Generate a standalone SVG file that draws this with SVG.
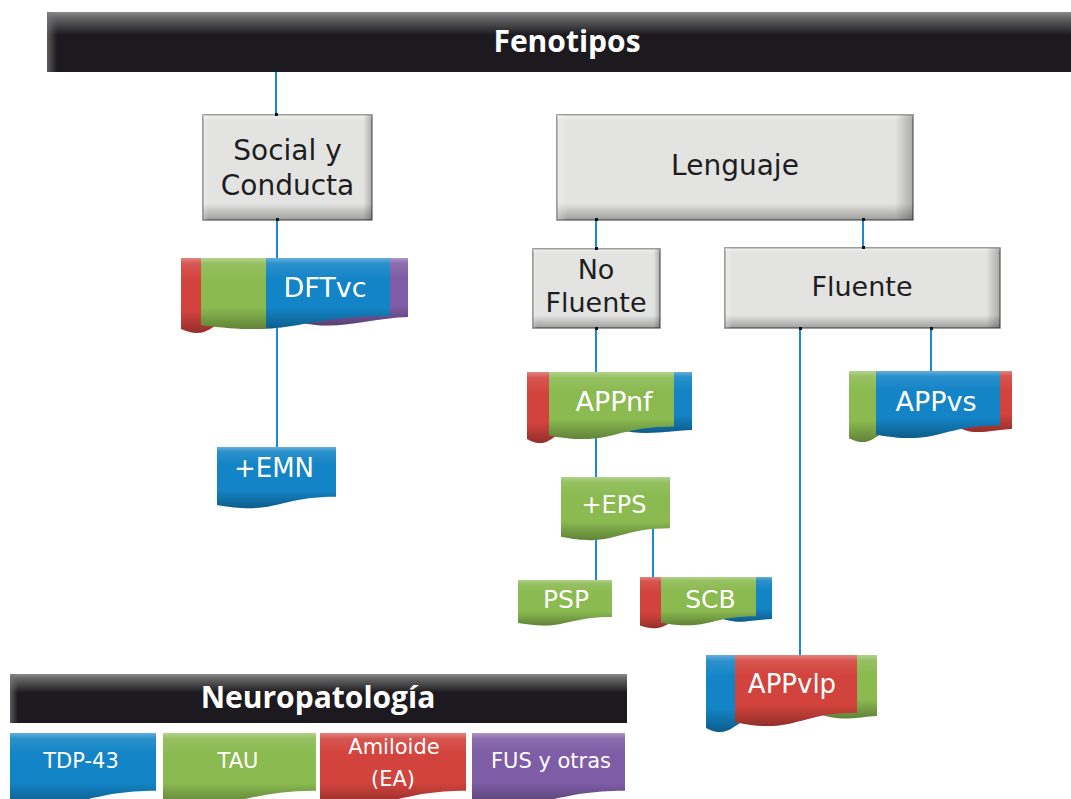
<svg xmlns="http://www.w3.org/2000/svg" width="1071" height="799" viewBox="0 0 1071 799">
<style>
.bar{fill:url(#barg)}
.barl{fill:url(#barl)}
.bt{font-family:"Open Sans","DejaVu Sans",sans-serif;font-weight:bold;font-size:30px;fill:#fff;text-anchor:middle}
.box{fill:#e3e3e1;stroke:#7d7d7d;stroke-width:1.5}
.boxv{fill:url(#boxv)}
.boxh{fill:url(#boxh)}
.gt{font-family:"DejaVu Sans",sans-serif;font-size:28px;fill:#1e1e1e;text-anchor:middle}
.wt{font-family:"DejaVu Sans",sans-serif;font-size:26px;fill:#fff;text-anchor:middle}
.lt{font-family:"DejaVu Sans",sans-serif;font-size:21px;fill:#fff;text-anchor:middle}
.blue{fill:#1384c6}
.green{fill:#8aba50}
.red{fill:#d3433d}
.purple{fill:#7e5da6}
.shine{fill:url(#shine)}
.conn{stroke:#1a8bd0;stroke-width:2;fill:none}
.dot{fill:#111}
</style>
<defs>
<linearGradient id="barg" x1="0" y1="0" x2="0" y2="1">
<stop offset="0" stop-color="#8c8c8c"/>
<stop offset="0.08" stop-color="#6a6a6a"/>
<stop offset="0.38" stop-color="#1c1a1e"/>
<stop offset="1" stop-color="#1c1a1e"/>
</linearGradient>
<linearGradient id="barl" x1="0" y1="0" x2="1" y2="0">
<stop offset="0" stop-color="#777" stop-opacity="0.7"/>
<stop offset="1" stop-color="#777" stop-opacity="0"/>
</linearGradient>
<linearGradient id="boxv" x1="0" y1="0" x2="0" y2="1">
<stop offset="0" stop-color="#fff" stop-opacity="0.5"/>
<stop offset="0.05" stop-color="#fff" stop-opacity="0"/>
<stop offset="0.84" stop-color="#000" stop-opacity="0"/>
<stop offset="1" stop-color="#000" stop-opacity="0.3"/>
</linearGradient>
<linearGradient id="boxh" x1="0" y1="0" x2="1" y2="0">
<stop offset="0" stop-color="#fff" stop-opacity="0.3"/>
<stop offset="0.03" stop-color="#fff" stop-opacity="0"/>
<stop offset="0.95" stop-color="#000" stop-opacity="0"/>
<stop offset="1" stop-color="#000" stop-opacity="0.25"/>
</linearGradient>
<linearGradient id="shine" x1="0" y1="0" x2="0" y2="1">
<stop offset="0" stop-color="#fff" stop-opacity="0.35"/>
<stop offset="0.08" stop-color="#fff" stop-opacity="0.1"/>
<stop offset="0.3" stop-color="#fff" stop-opacity="0"/>
<stop offset="0.7" stop-color="#000" stop-opacity="0"/>
<stop offset="1" stop-color="#000" stop-opacity="0.3"/>
</linearGradient>
<clipPath id="c-dft"><path d="M201 258 H390 V316 C295.5 316 295.5 338 201 325 Z"/></clipPath>
</defs>

<rect width="1071" height="799" fill="#fff"/>

<g id="connectors">
<line class="conn" x1="276" y1="71" x2="276" y2="115"/>
<line class="conn" x1="277" y1="220" x2="277" y2="448"/>
<line class="conn" x1="596" y1="220" x2="596" y2="249"/>
<line class="conn" x1="863" y1="220" x2="863" y2="248"/>
<line class="conn" x1="596" y1="328" x2="596" y2="581"/>
<line class="conn" x1="653" y1="510" x2="653" y2="578"/>
<line class="conn" x1="800" y1="328" x2="800" y2="656"/>
<line class="conn" x1="931" y1="328" x2="931" y2="372"/>
</g>

<g id="fenotipos">
<rect class="bar" x="47" y="12" width="1024" height="60"/>
<rect class="barl" x="47" y="12" width="10" height="60"/>
<text class="bt" x="567" y="52">Fenotipos</text>
</g>

<g id="social">
<rect class="box" x="203" y="115" width="169" height="105"/>
<rect class="boxv" x="203" y="115" width="169" height="105"/>
<rect class="boxh" x="203" y="115" width="169" height="105"/>
<text class="gt" x="287.5" y="160">Social y</text>
<text class="gt" x="287.5" y="195">Conducta</text>
</g>

<g id="lenguaje">
<rect class="box" x="557" y="115" width="356" height="105"/>
<rect class="boxv" x="557" y="115" width="356" height="105"/>
<rect class="boxh" x="557" y="115" width="356" height="105"/>
<text class="gt" x="735" y="175">Lenguaje</text>
</g>

<g id="nofluente">
<rect class="box" x="533" y="249" width="127" height="79"/>
<rect class="boxv" x="533" y="249" width="127" height="79"/>
<rect class="boxh" x="533" y="249" width="127" height="79"/>
<text class="gt" x="596" y="279" style="font-size:27px">No</text>
<text class="gt" x="596" y="312" style="font-size:27px">Fluente</text>
</g>

<g id="fluente">
<rect class="box" x="725" y="248" width="275" height="80"/>
<rect class="boxv" x="725" y="248" width="275" height="80"/>
<rect class="boxh" x="725" y="248" width="275" height="80"/>
<text class="gt" x="862" y="296" style="font-size:27px">Fluente</text>
</g>

<g id="dots">
<rect class="dot" x="275" y="113" width="3" height="3"/>
<rect class="dot" x="276" y="218" width="3" height="3"/>
<rect class="dot" x="595" y="218" width="3" height="3"/>
<rect class="dot" x="862" y="218" width="3" height="3"/>
<rect class="dot" x="595" y="247" width="3" height="3"/>
<rect class="dot" x="862" y="246" width="3" height="3"/>
<rect class="dot" x="595" y="327" width="3" height="3"/>
<rect class="dot" x="799" y="327" width="3" height="3"/>
<rect class="dot" x="930" y="327" width="3" height="3"/>
</g>

<g id="dftvc">
<path class="red" d="M181 258 H240 V319 C210.5 319 210.5 342 181 329 Z"/>
<path class="shine" d="M181 258 H240 V319 C210.5 319 210.5 342 181 329 Z"/>
<path class="purple" d="M300 258 H408 V317 C370 318 335 332 300 322 Z"/>
<path class="shine" d="M300 258 H408 V317 C370 318 335 332 300 322 Z"/>
<g clip-path="url(#c-dft)">
<rect class="green" x="201" y="258" width="65" height="85"/>
<rect class="blue" x="266" y="258" width="124" height="85"/>
</g>
<path class="shine" d="M201 258 H390 V316 C295.5 316 295.5 338 201 325 Z"/>
<text class="wt" x="325" y="297" style="font-size:27px">DFTvc</text>
</g>

<g id="emn">
<path class="blue" d="M217 447 H336 V496.7 C276.5 496.7 276.5 515.6 217 504.9 Z"/>
<path class="shine" d="M217 447 H336 V496.7 C276.5 496.7 276.5 515.6 217 504.9 Z"/>
<text class="wt" x="274" y="477">+EMN</text>
</g>

<g id="appnf">
<path class="red" d="M527 372 H575 V430 C551 430 551 452 527 439 Z"/>
<path class="shine" d="M527 372 H575 V430 C551 430 551 452 527 439 Z"/>
<path class="blue" d="M620 372 H692 V430 C665 431 645 436 620 430 Z"/>
<path class="shine" d="M620 372 H692 V430 C665 431 645 436 620 430 Z"/>
<path class="green" d="M549 372 H674 V426.5 C611.5 426.5 611.5 447.3 549 435.5 Z"/>
<path class="shine" d="M549 372 H674 V426.5 C611.5 426.5 611.5 447.3 549 435.5 Z"/>
<text class="wt" x="614" y="411" style="font-size:27px">APPnf</text>
</g>

<g id="appvs">
<path class="green" d="M849 371 H900 V428.7 C874.5 428.7 874.5 450.7 849 438.2 Z"/>
<path class="shine" d="M849 371 H900 V428.7 C874.5 428.7 874.5 450.7 849 438.2 Z"/>
<path class="red" d="M960 371 H1012 V429 C990 430 975 436 960 428 Z"/>
<path class="shine" d="M960 371 H1012 V429 C990 430 975 436 960 428 Z"/>
<path class="blue" d="M876 371 H1000 V425.5 C938 425.5 938 446.3 876 434.5 Z"/>
<path class="shine" d="M876 371 H1000 V425.5 C938 425.5 938 446.3 876 434.5 Z"/>
<text class="wt" x="936" y="411" style="font-size:27px">APPvs</text>
</g>

<g id="eps">
<path class="green" d="M561 477 H670 V528.3 C615.5 528.3 615.5 547.8 561 536.8 Z"/>
<path class="shine" d="M561 477 H670 V528.3 C615.5 528.3 615.5 547.8 561 536.8 Z"/>
<text class="wt" x="614" y="513" style="font-size:24px">+EPS</text>
</g>

<g id="psp">
<path class="green" d="M518 580 H612 V616.9 C565 616.9 565 630.9 518 623 Z"/>
<path class="shine" d="M518 580 H612 V616.9 C565 616.9 565 630.9 518 623 Z"/>
<text class="wt" x="566" y="608" style="font-size:25px">PSP</text>
</g>

<g id="scb">
<path class="red" d="M640 577 H690 V618.7 C665 618.7 665 634.6 640 625.6 Z"/>
<path class="shine" d="M640 577 H690 V618.7 C665 618.7 665 634.6 640 625.6 Z"/>
<path class="blue" d="M720 577 H772 V619 C750 620 738 625 720 618 Z"/>
<path class="shine" d="M720 577 H772 V619 C750 620 738 625 720 618 Z"/>
<path class="green" d="M661 577 H756 V616.3 C708.5 616.3 708.5 631.2 661 622.8 Z"/>
<path class="shine" d="M661 577 H756 V616.3 C708.5 616.3 708.5 631.2 661 622.8 Z"/>
<text class="wt" x="710.5" y="608" style="font-size:25px">SCB</text>
</g>

<g id="appvlp">
<path class="blue" d="M706 655 H760 V717.6 C733 717.6 733 741.3 706 727.9 Z"/>
<path class="shine" d="M706 655 H760 V717.6 C733 717.6 733 741.3 706 727.9 Z"/>
<path class="green" d="M820 655 H877 V716 C858 717 840 722 820 714 Z"/>
<path class="shine" d="M820 655 H877 V716 C858 717 840 722 820 714 Z"/>
<path class="red" d="M735 655 H857 V712.7 C796 712.7 796 734.7 735 722.2 Z"/>
<path class="shine" d="M735 655 H857 V712.7 C796 712.7 796 734.7 735 722.2 Z"/>
<text class="wt" x="792" y="693">APPvlp</text>
</g>

<g id="neuropatologia">
<rect class="bar" x="10" y="674" width="617" height="49"/>
<rect class="barl" x="10" y="674" width="8" height="49"/>
<text class="bt" x="318" y="708">Neuropatología</text>
</g>

<g id="legend-tdp">
<path class="blue" d="M10 733 H156 V790.7 C83 790.7 83 812.7 10 800.2 Z"/>
<path class="shine" d="M10 733 H156 V790.7 C83 790.7 83 812.7 10 800.2 Z"/>
<text class="lt" x="81" y="768">TDP-43</text>
</g>
<g id="legend-tau">
<path class="green" d="M163 733 H316 V790.7 C239.5 790.7 239.5 812.7 163 800.2 Z"/>
<path class="shine" d="M163 733 H316 V790.7 C239.5 790.7 239.5 812.7 163 800.2 Z"/>
<text class="lt" x="238" y="768">TAU</text>
</g>
<g id="legend-amiloide">
<path class="red" d="M320 733 H466 V790.7 C393 790.7 393 812.7 320 800.2 Z"/>
<path class="shine" d="M320 733 H466 V790.7 C393 790.7 393 812.7 320 800.2 Z"/>
<text class="lt" x="394" y="754">Amiloide</text>
<text class="lt" x="393" y="786">(EA)</text>
</g>
<g id="legend-fus">
<path class="purple" d="M472 733 H625 V790.7 C548.5 790.7 548.5 812.7 472 800.2 Z"/>
<path class="shine" d="M472 733 H625 V790.7 C548.5 790.7 548.5 812.7 472 800.2 Z"/>
<text class="lt" x="551" y="768">FUS y otras</text>
</g>
</svg>
